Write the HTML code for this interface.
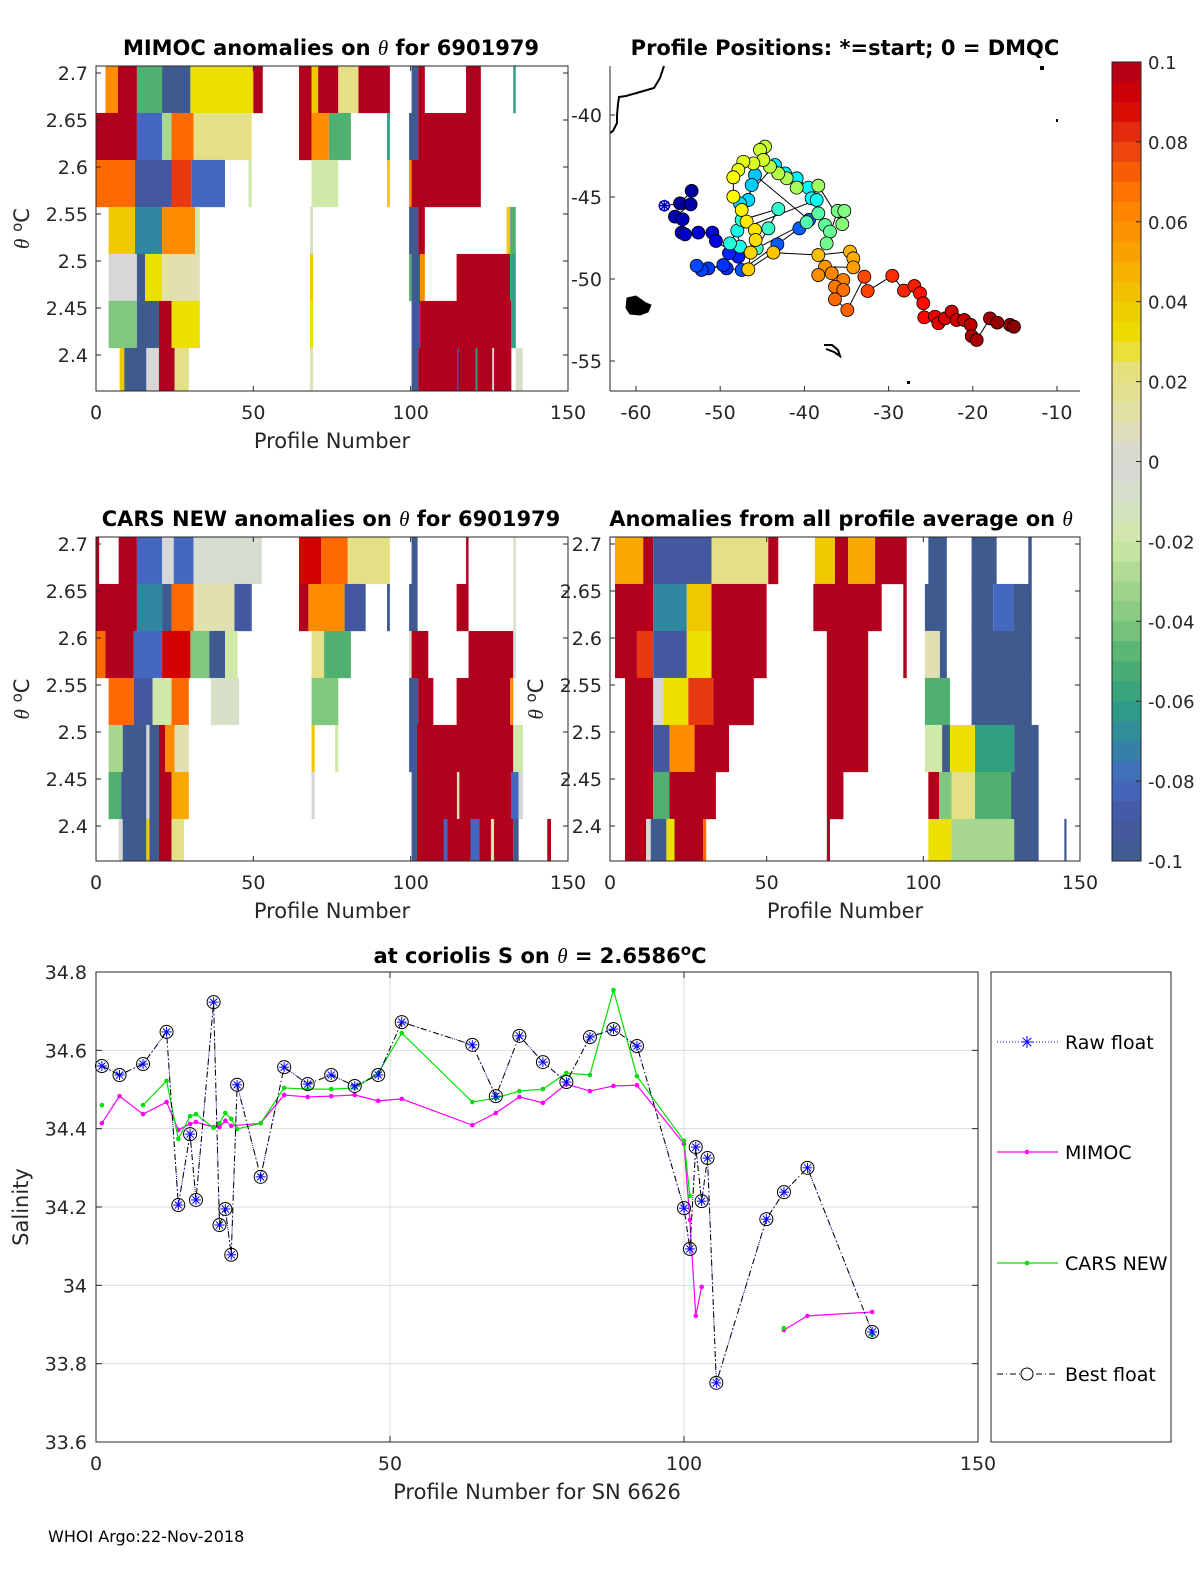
<!DOCTYPE html>
<html><head><meta charset="utf-8"><style>
body{margin:0;background:#fff;}
svg{display:block;font-family:"DejaVu Sans","Liberation Sans",sans-serif;}
</style></head><body>
<svg id="fig" width="1200" height="1575" viewBox="0 0 1200 1575" xmlns="http://www.w3.org/2000/svg">
<g id="layer"></g>
</svg>
<script>
// ---------- data ----------
var bandTops=[2.7075,2.6575,2.6075,2.5575,2.5075,2.4575,2.4075];
var mimocBands=[
[[3,7,0.06],[7,13,0.1],[13,21,-0.05],[21,30,-0.1],[30,50,0.03],[50,53,0.1],[64.5,68.5,0.1],[68.5,70.6,0.04],[70.6,77,0.1],[77,83.4,0.02],[83.4,93.4,0.1],[100.3,102.4,-0.1],[102.4,104.5,0.1],[117.6,122.3,0.1],[132.6,133.4,-0.06]],
[[0,13,0.1],[13,21,-0.08],[21,24,-0.03],[24,31,0.07],[31,49.5,0.02],[64.5,68.5,0.1],[68.5,74,0.06],[74,81,-0.05],[92.5,93.4,-0.06],[99.5,102.4,-0.1],[102.4,122.3,0.1]],
[[0,12.4,0.07],[12.4,24,-0.09],[24,30.4,0.08],[30.4,41,-0.08],[48.5,49.5,-0.02],[68.5,77,-0.02],[92.5,93.4,0.04],[99.5,100.3,0.06],[100.3,122.3,0.1]],
[[4,12.4,0.04],[12.4,21,-0.07],[21,31.5,0.06],[31.5,33,-0.02],[68,69,-0.01],[99.5,102.4,-0.1],[102.4,104.5,0.1],[130.5,131.6,0.04],[131.6,133.4,-0.05]],
[[4,13,0],[13,15.6,-0.1],[15.6,21,0.03],[21,33,0.01],[68,69,0.04],[99.5,100.3,-0.05],[100.3,103,-0.1],[103,104.5,0.06],[114.6,131.6,0.1],[131.6,133.4,-0.06]],
[[4,13,-0.04],[13,20,-0.1],[20,24,0.1],[24,33,0.03],[68,69,0.03],[100.3,103,-0.09],[103,132,0.1],[132,133.4,-0.06]],
[[7.5,9,0.04],[9,16,-0.1],[16,20,0],[20,25,0.1],[25,29.5,0.02],[68,69,0.01],[100.3,102.4,-0.1],[102.4,132,0.1],[114.7,115.2,-0.1],[120.6,121.2,-0.06],[125.9,126.5,0],[133.4,135.6,-0.01]]
];
var carsBands=[
[[0,1,0.1],[7.2,13,0.1],[13,21,-0.08],[21,24.7,0],[24.7,31,-0.08],[31,52.7,-0.005],[64.5,71.6,0.09],[71.6,80,0.07],[80,93.4,0.02],[100.3,102.2,-0.1],[117.6,118.4,0.1],[132.6,133.4,-0.01]],
[[0,13,0.1],[13,21,-0.07],[21,24,-0.1],[24,31,0.07],[31,44,0.01],[44,49.5,-0.09],[64.5,67.5,0.1],[67.5,79,0.06],[79,85.7,-0.09],[92.5,93.4,-0.1],[99.5,102.2,-0.1],[114.6,118.4,0.1],[132.6,133.4,-0.01]],
[[0,3,0.07],[3,12,0.1],[12,21,-0.08],[21,30,0.09],[30,36,-0.04],[36,41,-0.1],[41,45,-0.02],[68.5,72.5,0.02],[72.5,81,-0.05],[99.5,100.3,-0.01],[100.3,105.6,0.1],[118.4,132.6,0.1],[132.6,133.4,0]],
[[4,12,0.07],[12,18,-0.09],[18,24,-0.02],[24,29.5,0.07],[36.5,45.5,-0.01],[68.5,77,-0.04],[99.5,102.4,-0.1],[102.4,107.2,0.1],[114.6,131.6,0.1],[131.6,132.6,0.06]],
[[4,8.5,-0.03],[8.5,16,-0.1],[16,17,0],[17,20,-0.1],[20,22,0.1],[22,25,0.06],[25,29.5,0.01],[68.5,69.5,0.04],[76,77,-0.02],[99.5,102,-0.09],[102,132.6,0.1],[132.6,135.7,-0.02]],
[[4,8,-0.05],[8,16,-0.1],[16,17,0],[17,20,-0.1],[20,24,0.1],[24,29.5,0.05],[68.5,69.5,0],[100.3,102,-0.1],[102,132,0.1],[114.7,115.5,0.01],[132,134.3,-0.08],[134.3,135.7,0]],
[[7.2,8.5,0],[8.5,16,-0.1],[16,17,0.04],[17,20,-0.1],[20,24,0.1],[24,28,0.02],[100.3,102,-0.1],[102,132.6,0.1],[110.5,111.7,-0.08],[119,121.9,-0.08],[125.5,126.5,-0.02],[132.6,134.3,-0.1],[143.4,144.6,0.1]]
];
var avgBands=[
[[1.6,10.6,0.05],[10.6,13.8,0.1],[13.8,32.4,-0.09],[32.4,50.5,0.02],[50.5,53.7,0.1],[65.4,71.8,0.04],[71.8,76,0.1],[76,84.6,0.05],[84.6,94.7,0.1],[101.6,107.5,-0.1],[115.4,123.4,-0.1],[133.5,134.6,-0.1]],
[[1.6,13.8,0.1],[13.8,24.5,-0.07],[24.5,32.4,0.04],[32.4,50,0.1],[64.9,86.7,0.1],[93.6,94.7,0.1],[100.5,107.5,-0.1],[115.4,122.3,-0.1],[122.3,128.7,-0.08],[128.7,134.6,-0.1]],
[[1.6,8.6,0.1],[8.6,13.8,0.08],[13.8,24.5,-0.09],[24.5,32.4,0.03],[32.4,50,0.1],[69.2,82.4,0.1],[93.6,94.7,0.1],[100.5,105.3,0.01],[105.3,107.5,-0.1],[115.4,134.6,-0.1]],
[[4.8,13.8,0.1],[13.8,17,0],[17,25,0.03],[25,33,0.08],[33,45.9,0.1],[69.2,82.4,0.1],[100.5,108.5,-0.05],[115.4,134.6,-0.1]],
[[4.8,13.8,0.1],[13.8,19,-0.09],[19,27,0.06],[27,38,0.1],[69.2,82.4,0.1],[100.5,106,-0.02],[106,108.5,-0.1],[108.5,116.5,0.03],[116.5,129,-0.06],[129,136.8,-0.1]],
[[4.8,13.8,0.1],[13.8,19,-0.05],[19,33.8,0.1],[69.2,74.5,0.1],[101.6,105,0.1],[105,109,-0.04],[109,116.5,0.02],[116.5,128,-0.05],[128,136.8,-0.1]],
[[4.8,11.5,0.1],[11.5,13,0],[13,18,-0.1],[18,20.6,0.03],[20.6,29.7,0.1],[29.7,30.7,0.07],[69.2,70.2,0.1],[101.6,109,0.03],[109,129,-0.03],[129,136.8,-0.1],[145,145.7,-0.1]]
];
// map positions
var mapLon=[-54.77,-53.39,-53.51,-55.37,-54.46,-54.58,-54.18,-52.6,-50.93,-50.5,-47.85,-48.96,-49.23,-49.63,-51.41,-52.2,-52.79,-47.45,-43.21,-40.6,-39.45,-45.87,-46.26,-46.66,-47.65,-43.49,-42.3,-40.92,-39.53,-39.14,-38.54,-47.97,-47.65,-48.84,-47.45,-43.1,-44.28,-45.67,-39.73,-38.35,-37.55,-36.96,-37.36,-36.05,-35.26,-35.5,-38.35,-40.92,-42.11,-43.1,-44.09,-44.68,-45.27,-44.88,-46.06,-47.25,-47.85,-48.44,-48.44,-47.45,-46.86,-45.87,-45.79,-46.38,-46.66,-43.69,-38.35,-34.58,-34.19,-34.19,-37.55,-38.35,-36.76,-35.38,-36.37,-35.38,-36.37,-34.9,-32.88,-32.49,-29.56,-28.17,-26.94,-26.27,-25.88,-25.76,-24.49,-24.09,-23.3,-22.51,-21.92,-21.01,-20.25,-20.13,-19.54,-17.96,-17.09,-15.58,-15.11];
var mapLat=[-45.39,-44.63,-45.45,-46.2,-46.36,-47.17,-47.28,-47.17,-47.17,-47.68,-48.64,-48.43,-49.35,-49.15,-49.35,-49.45,-49.19,-49.45,-47.89,-46.91,-46.4,-43.66,-44.27,-45.18,-45.39,-43.05,-43.56,-43.86,-44.43,-45.08,-45.18,-47.05,-48.03,-47.83,-46.4,-45.73,-46.91,-48.13,-46.54,-46,-46.71,-47.11,-47.83,-45.85,-45.85,-46.65,-44.31,-44.43,-43.86,-43.56,-43.15,-41.93,-42.13,-42.74,-42.95,-42.85,-43.35,-43.8,-44.98,-45.79,-46.5,-47.01,-47.62,-48.39,-49.41,-48.39,-48.54,-48.33,-48.74,-49.29,-49.25,-49.76,-49.65,-50.06,-50.47,-50.67,-51.24,-51.89,-49.86,-50.73,-49.8,-50.71,-50.43,-50.87,-51.48,-52.34,-52.3,-52.7,-52.4,-51.99,-52.5,-52.5,-52.8,-53.48,-53.72,-52.4,-52.66,-52.8,-52.91];
var mapProf=[3,4,5,6,7,8,9,10,11,12,20,21,22,23,24,25,26,27,28,29,30,42,43,44,45,46,47,48,49,50,51,52,53,54,55,56,57,58,60,61,62,63,64,65,66,67,70,71,72,73,74,75,76,77,78,79,80,82,83,84,85,86,87,88,89,90,91,92,93,95,96,97,98,99,100,101,102,103,106,107,110,111,112,113,114,115,118,119,120,121,122,123,124,126,127,128,129,130,131];
var startLon=-56.63, startLat=-45.53;
// salinity series
var bestX=[1,4,8,12,14,16,17,20,21,22,23,24,28,32,36,40,44,48,52,64,68,72,76,80,84,88,92,100,101,102,103,104,105.5,114,117,121,132];
var bestY=[34.56,34.537,34.565,34.647,34.205,34.386,34.218,34.723,34.154,34.195,34.078,34.512,34.277,34.557,34.514,34.537,34.509,34.537,34.672,34.614,34.483,34.637,34.57,34.519,34.634,34.654,34.611,34.197,34.093,34.353,34.215,34.325,33.751,34.169,34.238,34.3,33.881];
var mimocX=[1,4,8,12,14,16,17,20,21,22,23,28,32,36,40,44,48,52,64,68,72,76,80,84,88,92,100,101,102,103,null,117,121,132];
var mimocY=[34.414,34.483,34.437,34.468,34.397,34.412,34.417,34.404,34.404,34.42,34.407,34.414,34.486,34.481,34.483,34.486,34.471,34.476,34.409,34.44,34.481,34.466,34.514,34.496,34.509,34.511,34.361,34.167,33.922,33.996,null,33.886,33.922,33.932];
var carsX=[1,null,8,12,14,16,17,20,21,22,23,24,28,32,36,40,44,48,52,64,68,72,76,80,84,88,92,100,101,null,117,null,132];
var carsY=[34.46,null,34.46,34.522,34.374,34.432,34.437,34.402,34.414,34.44,34.425,34.399,34.414,34.504,34.501,34.501,34.504,34.542,34.644,34.468,34.478,34.496,34.501,34.542,34.537,34.754,34.534,34.369,34.228,null,33.891,null,33.873];
var salTicks=[33.6,33.8,34,34.2,34.4,34.6,34.8];
var salTickLabels=["33.6","33.8","34","34.2","34.4","34.6","34.8"];
var profTicks=[0,50,100,150];
var thetaTicks=[2.7,2.65,2.6,2.55,2.5,2.45,2.4];
var thetaTickLabels=["2.7","2.65","2.6","2.55","2.5","2.45","2.4"];
var cbTicks=[0.1,0.08,0.06,0.04,0.02,0,-0.02,-0.04,-0.06,-0.08,-0.1];
var cbTickLabels=["0.1","0.08","0.06","0.04","0.02","0","-0.02","-0.04","-0.06","-0.08","-0.1"];
var lonTicks=[-60,-50,-40,-30,-20,-10];
var latTicks=[-40,-45,-50,-55];

// ---------- helpers ----------
var NS="http://www.w3.org/2000/svg";
var root=document.getElementById('layer');
function mk(tag,attrs,parent,text){var e=document.createElementNS(NS,tag);for(var k in attrs)e.setAttribute(k,attrs[k]);if(text!==undefined)e.textContent=text;(parent||root).appendChild(e);return e;}
var cStops=[[-0.1,[62,90,142]],[-0.09,[68,88,160]],[-0.08,[68,104,192]],[-0.07,[48,136,160]],[-0.06,[48,160,128]],[-0.05,[80,176,112]],[-0.04,[128,200,128]],[-0.03,[168,216,144]],[-0.02,[208,232,168]],[-0.01,[214,224,200]],[0,[215,215,215]],[0.01,[224,224,176]],[0.025,[230,224,112]],[0.03,[236,224,0]],[0.04,[240,200,0]],[0.05,[248,168,0]],[0.06,[255,140,0]],[0.07,[255,106,0]],[0.08,[232,56,16]],[0.09,[212,0,0]],[0.1,[176,0,30]]];
function cmap(v){if(v<=-0.1)return rgb(cStops[0][1]);if(v>=0.1)return rgb(cStops[cStops.length-1][1]);
 for(var i=0;i<cStops.length-1;i++){var a=cStops[i],b=cStops[i+1];if(v>=a[0]&&v<=b[0]){var t=(v-a[0])/(b[0]-a[0]);return rgb([0,1,2].map(function(j){return a[1][j]+(b[1][j]-a[1][j])*t;}));}}}
function rgb(c){return 'rgb('+c.map(function(x){return Math.round(x);}).join(',')+')';}
function jet(t){t=Math.max(0,Math.min(1,t));var r=Math.min(4*t-1.5,-4*t+4.5),g=Math.min(4*t-0.5,-4*t+3.5),b=Math.min(4*t+0.5,-4*t+2.5);return rgb([r,g,b].map(function(x){return 255*Math.max(0,Math.min(1,x));}));}

// ---------- heatmap panels ----------
function heatPanel(name,L,R,T,B,bands,title,titleX,showYLabel,xlab){
  var g=mk('g',{});
  
  
  var xs=function(p){return L+p*(R-L)/150;};
  var ys=function(th){return 73+(T-66)+(2.7-th)*940;};
  var cid='clip-'+name;var cp=mk('clipPath',{id:cid},g);mk('rect',{x:L,y:T,width:R-L,height:B-T},cp);
  var hg=mk('g',{'clip-path':'url(#'+cid+')'},g);
  bands.forEach(function(band,bi){
    band.forEach(function(s){
      var r=mk('rect',{x:xs(s[0]),y:ys(bandTops[bi]),width:Math.max(1,xs(s[1])-xs(s[0])),height:47.2,fill:cmap(s[2])},hg);
      
      
    });
  });
  mk('rect',{x:L,y:T,width:R-L,height:B-T,fill:'none',stroke:'#262626','stroke-width':1},g);
  thetaTicks.forEach(function(th,i){var y=ys(th);mk('line',{x1:L,x2:L+5,y1:y,y2:y,stroke:'#262626'},g);mk('line',{x1:R,x2:R-5,y1:y,y2:y,stroke:'#262626'},g);
    var t=mk('text',{x:L-8,y:y+7,'text-anchor':'end','font-size':19,fill:'#262626'},g,thetaTickLabels[i]);
    });
  profTicks.forEach(function(p){var x=xs(p);mk('line',{x1:x,x2:x,y1:B,y2:B-5,stroke:'#262626'},g);mk('line',{x1:x,x2:x,y1:T,y2:T+5,stroke:'#262626'},g);
    var t=mk('text',{x:x,y:B+28,'text-anchor':'middle','font-size':19,fill:'#262626'},g,String(p));
    });
  var tt=mk('text',{x:titleX,y:T-11,'text-anchor':'middle','font-size':21,'font-weight':'bold',fill:'#000'},g);
  tt.innerHTML=title;
  
  if(xlab){var xl=mk('text',{x:(L+R)/2,y:B+57,'text-anchor':'middle','font-size':21,fill:'#262626'},g,xlab);
    }
  if(showYLabel){var yl=mk('text',{transform:'translate('+(L-67)+','+((T+B)/2)+') rotate(-90)','text-anchor':'middle','font-size':21,fill:'#262626'},g);
    yl.innerHTML='<tspan font-style="italic" font-family="Liberation Serif,serif">θ</tspan> <tspan dy="-7" font-size="15">o</tspan><tspan dy="7">C</tspan>';
    }
}
var th='<tspan font-style="italic" font-weight="normal" font-family="Liberation Serif,serif">θ</tspan>';
heatPanel('mimoc-heatmap',96,568,66,391,mimocBands,'MIMOC anomalies on '+th+'  for 6901979',331,true,'Profile Number');
heatPanel('cars-heatmap',96,568,537,861,carsBands,'CARS NEW anomalies on '+th+' for 6901979',331,true,'Profile Number');
heatPanel('avg-heatmap',610,1080,537,861,avgBands,'Anomalies from all profile average on '+th,841,true,'Profile Number');

// ---------- map ----------
(function(){
  var L=610,R=1080,T=66,B=391;
  var g=mk('g',{});
  
  
  var xs=function(lon){return 636+(lon+60)*8.42;};
  var ys=function(lat){return 115+(-40-lat)*16.4;};
  var c1=mk('path',{d:'M664,66 L660,78 L654,88 L640,92 L626,96 L619,97 L618,104 L617,115 L617,123 L613,131 L610,133',fill:'none',stroke:'#000','stroke-width':2},g);
  
  var c2=mk('path',{d:'M627,298 L636,296 L646,303 L651,305 L648,312 L640,315 L630,314 L626,308 Z',fill:'#000',stroke:'#000','stroke-width':1},g);
  
  var c3=mk('path',{d:'M824,345 L832,345 L838,350 L840,356 L834,352 L826,349',fill:'none',stroke:'#000','stroke-width':2},g);
  
  mk('rect',{x:1056,y:119,width:2,height:3,fill:'#000'},g);
  mk('rect',{x:1040,y:66,width:4,height:4,fill:'#000'},g);
  mk('rect',{x:907,y:381,width:3,height:3,fill:'#000'},g);
  var pts=mapLon.map(function(lo,i){return xs(lo)+','+ys(mapLat[i]);});
  var pl=mk('polyline',{points:xs(startLon)+','+ys(startLat)+' '+pts.join(' '),fill:'none',stroke:'#000','stroke-width':1},g);
  
  mapLon.forEach(function(lo,i){
    var c=mk('circle',{cx:xs(lo),cy:ys(mapLat[i]),r:6.5,fill:jet(mapProf[i]/132),stroke:'#000','stroke-width':0.8},g);
    
  });
  var sx=xs(startLon),sy=ys(startLat);
  var st=mk('g',{},g);
  mk('circle',{cx:sx,cy:sy,r:5,fill:'#fff',stroke:'#0000b0','stroke-width':1.5},st);
  for(var a=0;a<4;a++){var an=a*Math.PI/4;mk('line',{x1:sx-6*Math.cos(an),y1:sy-6*Math.sin(an),x2:sx+6*Math.cos(an),y2:sy+6*Math.sin(an),stroke:'#0000b0','stroke-width':1.5},st);}
  mk('line',{x1:L,x2:L,y1:T,y2:B,stroke:'#262626'},g);
  mk('line',{x1:L,x2:R,y1:B,y2:B,stroke:'#262626'},g);
  lonTicks.forEach(function(lo){var x=xs(lo);mk('line',{x1:x,x2:x,y1:B,y2:B-5,stroke:'#262626'},g);
    var t=mk('text',{x:x,y:B+28,'text-anchor':'middle','font-size':19,fill:'#262626'},g,String(lo));
    });
  latTicks.forEach(function(la){var y=ys(la);mk('line',{x1:L,x2:L+5,y1:y,y2:y,stroke:'#262626'},g);
    var t=mk('text',{x:L-8,y:y+7,'text-anchor':'end','font-size':19,fill:'#262626'},g,String(la));
    });
  var tt=mk('text',{x:845,y:55,'text-anchor':'middle','font-size':21,'font-weight':'bold',fill:'#000'},g,'Profile Positions: *=start; 0 = DMQC');
  
})();

// ---------- colorbar ----------
(function(){
  var L=1112,R=1141,T=62,B=861;
  var g=mk('g',{});
  
  
  var ys=function(v){return T+(0.1-v)*(B-T)/0.2;};
  var n=40;
  for(var i=0;i<n;i++){var v0=0.1-i*0.2/n;var v=v0-0.1/n;
    mk('rect',{x:L,y:ys(v0),width:R-L,height:(B-T)/n+0.5,fill:cmap(v)},g);}
  mk('rect',{x:L,y:T,width:R-L,height:B-T,fill:'none',stroke:'#262626'},g);
  cbTicks.forEach(function(v,i){var y=ys(v);mk('line',{x1:R,x2:R-5,y1:y,y2:y,stroke:'#262626'},g);
    var t=mk('text',{x:R+7,y:y+7,'font-size':18,fill:'#262626'},g,cbTickLabels[i]);
    });
})();

// ---------- salinity chart ----------
(function(){
  var L=96,R=978,T=972,B=1442;
  var g=mk('g',{});
  
  
  var xs=function(p){return L+p*(R-L)/150;};
  var ys=function(s){return T+(34.8-s)*(B-T)/1.2;};
  mk('rect',{x:L,y:T,width:R-L,height:B-T,fill:'#fff'},g);
  salTicks.forEach(function(s,i){var y=ys(s);
    var gl=mk('line',{x1:L,x2:R,y1:y,y2:y,stroke:'#dcdcdc'},g);
    mk('line',{x1:L,x2:L+6,y1:y,y2:y,stroke:'#262626'},g);mk('line',{x1:R,x2:R-6,y1:y,y2:y,stroke:'#262626'},g);
    var t=mk('text',{x:L-9,y:y+7,'text-anchor':'end','font-size':19,fill:'#262626'},g,salTickLabels[i]);
    });
  profTicks.forEach(function(p){var x=xs(p);
    var gl=mk('line',{x1:x,x2:x,y1:T,y2:B,stroke:'#dcdcdc'},g);
    mk('line',{x1:x,x2:x,y1:B,y2:B-6,stroke:'#262626'},g);mk('line',{x1:x,x2:x,y1:T,y2:T+6,stroke:'#262626'},g);
    var t=mk('text',{x:x,y:B+28,'text-anchor':'middle','font-size':19,fill:'#262626'},g,String(p));
    });
  function segs(X,Y){var out=[],cur=[];X.forEach(function(x,i){if(x===null||Y[i]===null){if(cur.length)out.push(cur);cur=[];}else cur.push([xs(x),ys(Y[i])]);});if(cur.length)out.push(cur);return out;}
  segs(mimocX,mimocY).forEach(function(s){var p=mk('polyline',{points:s.map(function(q){return q.join(',');}).join(' '),fill:'none',stroke:'#ff00ff','stroke-width':1.2},g);
    
    s.forEach(function(q){mk('circle',{cx:q[0],cy:q[1],r:2.3,fill:'#ff00ff'},g);});});
  segs(carsX,carsY).forEach(function(s){var p=mk('polyline',{points:s.map(function(q){return q.join(',');}).join(' '),fill:'none',stroke:'#00e000','stroke-width':1.2},g);
    
    s.forEach(function(q){mk('circle',{cx:q[0],cy:q[1],r:2.3,fill:'#00e000'},g);});});
  var bp=bestX.map(function(x,i){return xs(x)+','+ys(bestY[i]);}).join(' ');
  var raw=mk('polyline',{points:bp,fill:'none',stroke:'#0000ff','stroke-width':1,'stroke-dasharray':'1 3'},g);
  
  var best=mk('polyline',{points:bp,fill:'none',stroke:'#000','stroke-width':1,'stroke-dasharray':'6 3 1 3'},g);
  
  bestX.forEach(function(x,i){var cx=xs(x),cy=ys(bestY[i]);
    var m=mk('g',{},g);
    mk('circle',{cx:cx,cy:cy,r:6.5,fill:'none',stroke:'#000','stroke-width':1},m);
    for(var a=0;a<4;a++){var an=a*Math.PI/4;mk('line',{x1:cx-5*Math.cos(an),y1:cy-5*Math.sin(an),x2:cx+5*Math.cos(an),y2:cy+5*Math.sin(an),stroke:'#0000ff','stroke-width':1},m);}
  });
  mk('rect',{x:L,y:T,width:R-L,height:B-T,fill:'none',stroke:'#262626'},g);
  var tt=mk('text',{x:540,y:963,'text-anchor':'middle','font-size':21,'font-weight':'bold',fill:'#000'},g);
  tt.innerHTML='at coriolis S on <tspan font-style="italic" font-weight="normal" font-family="Liberation Serif,serif">θ</tspan> = 2.6586<tspan dy="-8" font-size="15">o</tspan><tspan dy="8">C</tspan>';
  
  var xl=mk('text',{x:537,y:1499,'text-anchor':'middle','font-size':21,fill:'#262626'},g,'Profile Number for SN 6626');
  
  var yl=mk('text',{transform:'translate(28,1207) rotate(-90)','text-anchor':'middle','font-size':21,fill:'#262626'},g,'Salinity');
  
  var lg=mk('g',{},g);
  mk('rect',{x:991,y:972,width:180,height:470,fill:'#fff',stroke:'#262626'},lg);
  var ent=[['Raw float',1042,'raw'],['MIMOC',1152,'mimoc'],['CARS NEW',1263,'cars'],['Best float',1374,'best']];
  ent.forEach(function(e){var y=e[1];var eg=mk('g',{},lg);
    if(e[2]==='raw'){mk('line',{x1:997,x2:1058,y1:y,y2:y,stroke:'#0000ff','stroke-dasharray':'1 2'},eg);
      for(var a=0;a<4;a++){var an=a*Math.PI/4;mk('line',{x1:1027-6*Math.cos(an),y1:y-6*Math.sin(an),x2:1027+6*Math.cos(an),y2:y+6*Math.sin(an),stroke:'#0000ff'},eg);}}
    else if(e[2]==='mimoc'){mk('line',{x1:997,x2:1058,y1:y,y2:y,stroke:'#ff00ff','stroke-width':1.2},eg);mk('circle',{cx:1027,cy:y,r:2.3,fill:'#ff00ff'},eg);}
    else if(e[2]==='cars'){mk('line',{x1:997,x2:1058,y1:y,y2:y,stroke:'#00e000','stroke-width':1.2},eg);mk('circle',{cx:1027,cy:y,r:2.3,fill:'#00e000'},eg);}
    else {mk('line',{x1:997,x2:1058,y1:y,y2:y,stroke:'#000','stroke-dasharray':'6 3 1 3'},eg);mk('circle',{cx:1027,cy:y,r:6,fill:'#fff',stroke:'#000'},eg);}
    mk('text',{x:1065,y:y+7,'font-size':19,fill:'#000'},eg,e[0]);});
})();
var foot=mk('text',{x:48,y:1542,'font-size':16,fill:'#000'},root,'WHOI Argo:22-Nov-2018');


</script>
</body></html>
